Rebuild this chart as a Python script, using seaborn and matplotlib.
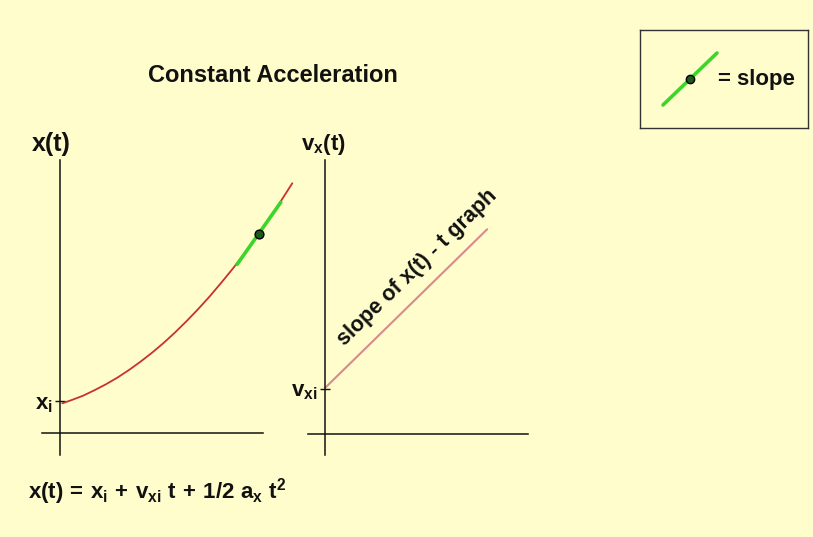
import matplotlib
matplotlib.use("Agg")
import matplotlib.pyplot as plt
import seaborn as sns

# position-time curve (t, x) for constant acceleration
pos_t = [0.1, 0.5, 1, 1.5, 2, 2.5, 3, 3.5, 4, 4.5, 5, 5.5, 6, 6.5, 7, 7.5, 8, 8.5,
         9, 9.5, 10.1]
pos_x = [1.29, 1.43, 1.62, 1.86, 2.12, 2.41, 2.74, 3.10, 3.49, 3.91, 4.37, 4.86,
         5.38, 5.93, 6.52, 7.13, 7.78, 8.46, 9.18, 9.92, 10.86]

# tangent segment and the touching point
tan_t = [7.7, 9.6]
tan_x = [7.33, 10.03]
touch_t = [8.65]
touch_x = [8.67]

# velocity-time line
vel_t = [0.0, 7.05]
vel_v = [2.0, 8.9]

x_initial = 1.38
v_initial = 1.96

BG = "#FFFDCB"
RED = "#C8322E"
PINK = "#D98A8C"
GREEN = "#3CD62A"
DOT = "#1E5A1E"
INK = "#111111"

sns.set_theme(style="white")
plt.rcParams["font.family"] = ["Liberation Sans", "DejaVu Sans"]
plt.rcParams["font.weight"] = "bold"
plt.rcParams["mathtext.fontset"] = "custom"
plt.rcParams["mathtext.rm"] = "Liberation Sans:bold"
plt.rcParams["mathtext.bf"] = "Liberation Sans:bold"
plt.rcParams["mathtext.it"] = "Liberation Sans:bold"

W, H = 813, 537
fig = plt.figure(figsize=(W / 100, H / 100), dpi=100, facecolor=BG)


def px_axes(x0, x1, ytop, ybot):
    return fig.add_axes([x0 / W, (H - ybot) / H, (x1 - x0) / W, (ybot - ytop) / H])


def style_axes(ax, xb, yb):
    ax.set_facecolor("none")
    for side in ("top", "right"):
        ax.spines[side].set_visible(False)
    for side in ("left", "bottom"):
        ax.spines[side].set_position(("data", 0))
        ax.spines[side].set_color(INK)
        ax.spines[side].set_linewidth(1.1)
    ax.spines["bottom"].set_bounds(*xb)
    ax.spines["left"].set_bounds(*yb)
    ax.set_xticks([])
    ax.tick_params(axis="y", direction="inout", length=7, width=1.0, color=INK,
                   labelsize=16, pad=2, left=True, labelcolor=INK)


# ---- x(t) graph ----
ax1 = px_axes(30, 300, 125, 470)
ax1.set_xlim((30 - 60) / 23, (300 - 60) / 23)
ax1.set_ylim((433 - 470) / 23, (433 - 125) / 23)
style_axes(ax1, (-0.78, 8.83), (-0.96, 11.87))

sns.lineplot(x=pos_t, y=pos_x, ax=ax1, color=RED, lw=1.3, sort=False)
sns.lineplot(x=tan_t, y=tan_x, ax=ax1, color=GREEN, lw=2.6)
sns.scatterplot(x=touch_t, y=touch_x, ax=ax1, color=DOT, edgecolor="black",
                s=40, linewidth=1.0, zorder=5)
ax1.set_yticks([x_initial])
ax1.set_yticklabels([r"$\mathbf{x_i}$"])
ax1.set_ylabel("x(t)", rotation=0, fontsize=18, fontweight="bold", ha="center",
               va="center", color=INK)
ax1.yaxis.set_label_coords((51 - 30) / 270, (470 - 144) / 345)
ax1.set_xlabel("t", fontsize=18, fontweight="bold", color=INK)
ax1.xaxis.set_label_coords((255 - 30) / 270, (470 - 453) / 345)

# ---- v_x(t) graph ----
ax2 = px_axes(300, 560, 125, 470)
ax2.set_xlim((300 - 325) / 23, (560 - 325) / 23)
ax2.set_ylim((434 - 470) / 23, (434 - 125) / 23)
style_axes(ax2, (-0.74, 8.83), (-0.91, 11.9))

sns.lineplot(x=vel_t, y=vel_v, ax=ax2, color=PINK, lw=1.5)
ax2.set_yticks([v_initial])
ax2.set_yticklabels([r"$\mathbf{v_{xi}}$"])
ax2.set_ylabel(r"$\mathbf{v_x(t)}$", rotation=0, fontsize=16, ha="center", va="center",
               color=INK)
ax2.yaxis.set_label_coords((323 - 300) / 260, (470 - 145) / 345)
ax2.set_xlabel("t", fontsize=18, fontweight="bold", color=INK)
ax2.xaxis.set_label_coords((520 - 300) / 260, (470 - 453) / 345)
ax2.text((417 - 325) / 23, (434 - 268) / 23, "slope of x(t) - t graph", rotation=44.3,
         rotation_mode="anchor", ha="center", va="center", fontsize=15.5,
         fontweight="bold", color=INK)

# ---- title and equation ----
fig.text(273 / W, 1 - 75 / H, "Constant Acceleration", ha="center", va="center",
         fontsize=17, fontweight="bold", color=INK)
fig.text(28 / W, 1 - 492 / H,
         r"$\mathbf{x(t)\,=\,x_i\,+\,v_{xi}\ t\,+\,1/2\ a_x\ t^2}$",
         ha="left", va="center", fontsize=16, color=INK)

# ---- key box: a short green line with a dot means "slope" ----
key = px_axes(640, 808, 30, 128)
key.set_xlim(0, 168)
key.set_ylim(0, 98)
key.set_facecolor("none")
key.set_xticks([])
key.set_yticks([])
for s in key.spines.values():
    s.set_visible(True)
    s.set_color("#333333")
    s.set_linewidth(1.0)
key.plot([23, 77], [23, 75], color=GREEN, lw=2.6)
key.scatter([50], [49], color=DOT, edgecolor="black", s=36, linewidth=1.0, zorder=5)
key.text(78, 48, "= slope", ha="left", va="center", fontsize=16, fontweight="bold",
         color=INK)

fig.savefig("out.png", dpi=100, facecolor=BG)
